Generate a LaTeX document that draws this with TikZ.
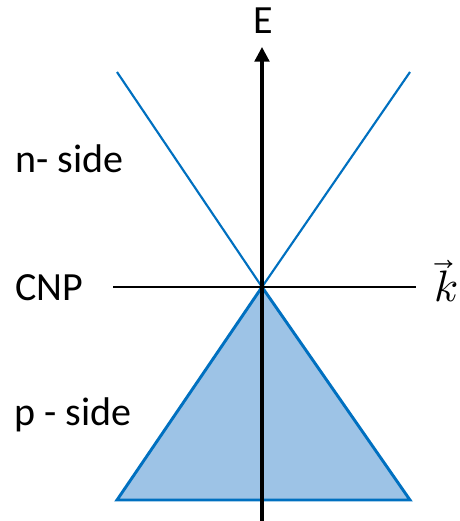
\documentclass[tikz,border=0pt]{standalone}
\usepackage{fontspec}
\usepackage{unicode-math}
\setmainfont{Carlito}
\setmathfont{Latin Modern Math}
\usetikzlibrary{arrows.meta}
\definecolor{bandblue}{HTML}{0070C0}
\definecolor{bandfill}{HTML}{9DC3E6}
\begin{document}
\begin{tikzpicture}[x=0.75pt,y=-0.75pt,
  lbl/.style={font=\fontsize{30}{34}\selectfont, inner sep=0pt},
  band/.style={draw=bandblue, line width=1.6pt}]
\useasboundingbox (0,0) rectangle (460,521);
\coordinate (D) at (262,287);
\coordinate (UL) at (117,72);
\coordinate (UR) at (410,72);
\coordinate (LL) at (117,500);
\coordinate (LR) at (410,500);
\coordinate (HL) at (113,287);
\coordinate (HR) at (416,287);
\coordinate (AB) at (262,521);
\coordinate (AT) at (262,47);
\filldraw[band, fill=bandfill, line width=2.2pt, line join=miter] (D) -- (LL) -- (LR) -- cycle;
\draw[band] (UL) -- (D) -- (UR);
\draw[line width=0.8pt] (HL) -- (HR);
\draw[line width=2.4pt, -{Triangle[length=11pt,width=11pt]}] (AB) -- (AT);
\node[lbl] (E) at (263,21) {E};
\node[lbl, font=\fontsize{33}{36}\selectfont] (k) at (446,281) {$\vec{k}$};
\node[lbl, anchor=west] (n) at (15,159) {n- side};
\node[lbl, anchor=west] (cnp) at (15,288) {CNP};
\node[lbl, anchor=west] (p) at (14,415) {p - side};
\end{tikzpicture}
\end{document}
